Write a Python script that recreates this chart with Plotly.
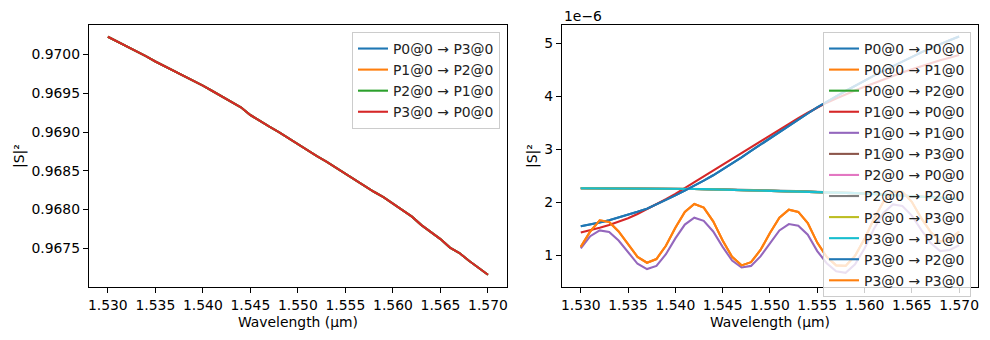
import plotly.graph_objects as go

# ---------------- data ----------------
wavelength = [1.530, 1.531, 1.532, 1.533, 1.534, 1.535, 1.536, 1.537, 1.538, 1.539,
              1.540, 1.541, 1.542, 1.543, 1.544, 1.545, 1.546, 1.547, 1.548, 1.549,
              1.550, 1.551, 1.552, 1.553, 1.554, 1.555, 1.556, 1.557, 1.558, 1.559,
              1.560, 1.561, 1.562, 1.563, 1.564, 1.565, 1.566, 1.567, 1.568, 1.569,
              1.570]

# left panel: through transmission (all four essentially identical)
through = [0.97023, 0.97017, 0.97011, 0.97005, 0.96998, 0.96991, 0.96985, 0.96979, 0.96972, 0.96966,
           0.96960, 0.96953, 0.96946, 0.96939, 0.96932, 0.96922, 0.96914, 0.96907, 0.96900, 0.96892,
           0.96885, 0.96877, 0.96869, 0.96862, 0.96854, 0.96847, 0.96839, 0.96831, 0.96823, 0.96816,
           0.96808, 0.96799, 0.96791, 0.96780, 0.96771, 0.96762, 0.96751, 0.96744, 0.96734, 0.96725,
           0.96716]
left_labels = ["P0@0 → P3@0", "P1@0 → P2@0", "P2@0 → P1@0", "P3@0 → P0@0"]
left_series = [through, through, through, through]

# right panel values, in units of 1e-6
rise_blue = [1.55, 1.58, 1.62, 1.66, 1.71, 1.76, 1.82, 1.88, 1.96, 2.05,
             2.13, 2.22, 2.31, 2.41, 2.51, 2.62, 2.73, 2.85, 2.97, 3.09,
             3.21, 3.33, 3.45, 3.57, 3.68, 3.79, 3.90, 4.00, 4.10, 4.20,
             4.30, 4.39, 4.48, 4.57, 4.66, 4.75, 4.83, 4.91, 4.99, 5.06,
             5.13]
rise_red = [1.43, 1.47, 1.52, 1.57, 1.63, 1.70, 1.78, 1.87, 1.96, 2.06,
            2.16, 2.27, 2.38, 2.49, 2.60, 2.71, 2.82, 2.94, 3.05, 3.16,
            3.27, 3.38, 3.48, 3.59, 3.69, 3.79, 3.88, 3.96, 4.04, 4.11,
            4.18, 4.25, 4.32, 4.38, 4.45, 4.51, 4.57, 4.62, 4.68, 4.73,
            4.78]
osc_upper = [1.16, 1.45, 1.66, 1.63, 1.45, 1.20, 0.97, 0.86, 0.93, 1.18,
             1.52, 1.82, 1.97, 1.90, 1.64, 1.28, 0.97, 0.81, 0.87, 1.10,
             1.42, 1.71, 1.86, 1.82, 1.61, 1.24, 0.97, 0.81, 0.80, 0.99,
             1.31, 1.69, 2.01, 2.20, 2.20, 2.01, 1.70, 1.44, 1.26, 1.30,
             1.45]
osc_lower = [1.13, 1.36, 1.47, 1.44, 1.28, 1.05, 0.84, 0.74, 0.80, 1.02,
             1.32, 1.58, 1.71, 1.65, 1.45, 1.16, 0.90, 0.77, 0.80, 0.98,
             1.23, 1.47, 1.59, 1.56, 1.39, 1.08, 0.85, 0.70, 0.67, 0.83,
             1.13, 1.50, 1.80, 1.96, 1.93, 1.75, 1.48, 1.23, 1.08, 1.10,
             1.19]
flat = [2.265, 2.265, 2.265, 2.264, 2.263, 2.262, 2.261, 2.260, 2.259, 2.258,
        2.256, 2.254, 2.252, 2.249, 2.245, 2.241, 2.237, 2.233, 2.229, 2.225,
        2.221, 2.217, 2.213, 2.209, 2.204, 2.199, 2.193, 2.187, 2.180, 2.173,
        2.165, 2.157, 2.148, 2.139, 2.129, 2.119, 2.108, 2.097, 2.085, 2.073,
        2.060]
flat_gray = [2.265, 2.265, 2.265, 2.264, 2.263, 2.262, 2.261, 2.260, 2.259, 2.258,
             2.256, 2.254, 2.253, 2.252, 2.250, 2.247, 2.244, 2.241, 2.237, 2.233,
             2.229, 2.224, 2.219, 2.213, 2.206, 2.199, 2.193, 2.187, 2.180, 2.173,
             2.165, 2.157, 2.148, 2.139, 2.129, 2.119, 2.108, 2.097, 2.085, 2.073,
             2.060]

right_labels = ["P0@0 → P0@0", "P0@0 → P1@0", "P0@0 → P2@0", "P1@0 → P0@0",
                "P1@0 → P1@0", "P1@0 → P3@0", "P2@0 → P0@0", "P2@0 → P2@0",
                "P2@0 → P3@0", "P3@0 → P1@0", "P3@0 → P2@0", "P3@0 → P3@0"]
right_series = [rise_blue, osc_upper, flat, rise_red,
                osc_lower, flat, flat, flat_gray,
                flat, flat, rise_blue, osc_upper]

x_ticks = [1.530, 1.535, 1.540, 1.545, 1.550, 1.555, 1.560, 1.565, 1.570]
left_y_ticks = [0.9675, 0.9680, 0.9685, 0.9690, 0.9695, 0.9700]
right_y_ticks = [1, 2, 3, 4, 5]

colors = ["#1f77b4", "#ff7f0e", "#2ca02c", "#d62728", "#9467bd",
          "#8c564b", "#e377c2", "#7f7f7f", "#bcbd22", "#17becf"]

# ---------------- figure ----------------
W, H = 990, 340
FONT = "DejaVu Sans"
FS = 13.9

fig = go.Figure()

for i, (lab, ys) in enumerate(zip(left_labels, left_series)):
    fig.add_trace(go.Scatter(x=wavelength, y=ys, mode="lines", name=lab,
                             line=dict(color=colors[i % 10], width=2.1),
                             xaxis="x", yaxis="y", legend="legend"))

for i, (lab, ys) in enumerate(zip(right_labels, right_series)):
    fig.add_trace(go.Scatter(x=wavelength, y=ys, mode="lines", name=lab,
                             line=dict(color=colors[i % 10], width=2.1),
                             xaxis="x2", yaxis="y2", legend="legend2"))

def px_x(p):
    return p / W

def px_y(p):
    return (H - p) / H

ax_top, ax_bot = 25, 287
common = dict(showline=True, linecolor="black", linewidth=1, mirror=True,
              ticks="outside", ticklen=5, tickwidth=1, tickcolor="black",
              showgrid=False, zeroline=False,
              tickfont=dict(family=FONT, size=FS, color="black"))

fig.update_layout(
    width=W, height=H,
    margin=dict(l=0, r=0, t=0, b=0),
    paper_bgcolor="white", plot_bgcolor="white",
    font=dict(family=FONT, size=FS, color="black"),
    xaxis=dict(domain=[px_x(88), px_x(507)], range=[1.528, 1.572],
               tickvals=x_ticks, tickformat=".3f", anchor="y", **common),
    yaxis=dict(domain=[px_y(ax_bot), px_y(ax_top)], range=[0.967002, 0.970381],
               tickvals=left_y_ticks, tickformat=".4f", anchor="x", **common),
    xaxis2=dict(domain=[px_x(562), px_x(979)], range=[1.528, 1.572],
                tickvals=x_ticks, tickformat=".3f", anchor="y2", **common),
    yaxis2=dict(domain=[px_y(ax_bot), px_y(ax_top)], range=[0.402, 5.346],
                tickvals=right_y_ticks, tickformat="d", anchor="x2", **common),
    legend=dict(x=px_x(500), y=px_y(32), xanchor="right", yanchor="top",
                bgcolor="rgba(255,255,255,0.8)", bordercolor="#cccccc", borderwidth=1,
                font=dict(family=FONT, size=FS, color="#222222")),
    legend2=dict(x=px_x(972), y=px_y(32), xanchor="right", yanchor="top",
                 bgcolor="rgba(255,255,255,0.8)", bordercolor="#cccccc", borderwidth=1,
                 font=dict(family=FONT, size=FS, color="#222222")),
    showlegend=True,
)

ann = []
mid_y = px_y((ax_top + ax_bot) / 2)
ann.append(dict(text="|S|²", x=px_x(18), y=mid_y, xref="paper", yref="paper",
                textangle=-90, showarrow=False, xanchor="center", yanchor="middle",
                font=dict(family=FONT, size=FS, color="black")))
ann.append(dict(text="|S|²", x=px_x(532), y=mid_y, xref="paper", yref="paper",
                textangle=-90, showarrow=False, xanchor="center", yanchor="middle",
                font=dict(family=FONT, size=FS, color="black")))
ann.append(dict(text="Wavelength (µm)", x=px_x((88 + 507) / 2), y=px_y(322),
                xref="paper", yref="paper", showarrow=False,
                xanchor="center", yanchor="middle",
                font=dict(family=FONT, size=FS, color="black")))
ann.append(dict(text="Wavelength (µm)", x=px_x((562 + 979) / 2), y=px_y(322),
                xref="paper", yref="paper", showarrow=False,
                xanchor="center", yanchor="middle",
                font=dict(family=FONT, size=FS, color="black")))
ann.append(dict(text="1e−6", x=px_x(562), y=px_y(16), xref="paper", yref="paper",
                showarrow=False, xanchor="left", yanchor="middle",
                font=dict(family=FONT, size=FS, color="black")))
fig.update_layout(annotations=ann)

fig.write_html("out.html")
